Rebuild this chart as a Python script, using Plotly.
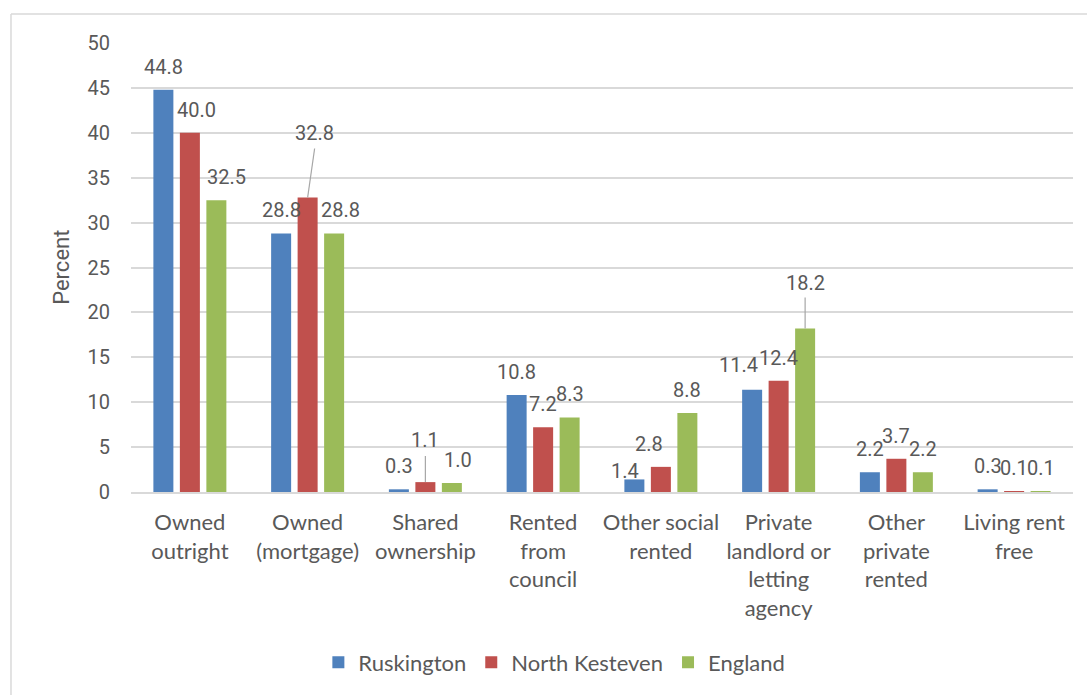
import plotly.graph_objects as go

# Household tenure shares (%)
categories = [
    "Owned<br>outright",
    "Owned<br>(mortgage)",
    "Shared<br>ownership",
    "Rented<br>from<br>council",
    "Other social<br>rented",
    "Private<br>landlord or<br>letting<br>agency",
    "Other<br>private<br>rented",
    "Living rent<br>free",
]
ruskington = [44.8, 28.8, 0.3, 10.8, 1.4, 11.4, 2.2, 0.3]
north_kesteven = [40.0, 32.8, 1.1, 7.2, 2.8, 12.4, 3.7, 0.1]
england = [32.5, 28.8, 1.0, 8.3, 8.8, 18.2, 2.2, 0.1]

series_names = ["Ruskington", "North Kesteven", "England"]
series_values = [ruskington, north_kesteven, england]
colors = ["#4F81BD", "#C0504D", "#9BBB59"]

TEXT = "#595959"
GRID = "#D9D9D9"
BARGAP = 0.325
BARGROUPGAP = 0.245

# Label nudges in pixels: (series index, category index) -> (dx, dy, leader length)
DEFAULT_DY = 23
nudges = {
    (1, 0): (7, DEFAULT_DY, 0),
    (2, 0): (10, DEFAULT_DY, 0),
    (1, 1): (7, 64, 49),
    (2, 1): (6, DEFAULT_DY, 0),
    (1, 2): (0, 42, 26),
    (2, 2): (6, DEFAULT_DY, 0),
    (0, 4): (-9, 8, 0),
    (1, 4): (-12, DEFAULT_DY, 0),
    (0, 5): (-14, 25, 0),
    (2, 5): (0, 46, 31),
}

fig = go.Figure()
for name, vals, col in zip(series_names, series_values, colors):
    fig.add_trace(go.Bar(
        name=name,
        x=categories,
        y=vals,
        marker=dict(color=col, line=dict(width=0)),
    ))

slot = (1 - BARGAP) / len(series_values)
annotations = []
shapes = []
for si, vals in enumerate(series_values):
    offset = (si - (len(series_values) - 1) / 2) * slot
    for ci, v in enumerate(vals):
        dx, dy, leader = nudges.get((si, ci), (0, DEFAULT_DY, 0))
        xpos = ci + offset
        annotations.append(dict(
            x=xpos, y=v, xref="x", yref="y",
            text=f"{v:.1f}", showarrow=False,
            xanchor="center", yanchor="middle",
            xshift=dx, yshift=dy,
            font=dict(family="Roboto", size=20, color=TEXT),
        ))
        if leader:
            shapes.append(dict(
                type="line", xref="x", yref="y",
                xsizemode="pixel", ysizemode="pixel",
                xanchor=xpos, yanchor=v,
                x0=0, x1=dx, y0=0, y1=leader,
                line=dict(color="#A6A6A6", width=1.2),
            ))

# Y axis title
annotations.append(dict(
    x=-0.074, y=0.5, xref="paper", yref="paper",
    text="Percent", textangle=-90, showarrow=False,
    xanchor="center", yanchor="middle",
    font=dict(family="Roboto", size=22, color=TEXT),
))

# Chart frame
shapes.append(dict(type="line", xref="paper", yref="paper",
                   x0=-0.1274, x1=1.05, y0=1.0646, y1=1.0646,
                   line=dict(color=GRID, width=1.5), layer="below"))
shapes.append(dict(type="line", xref="paper", yref="paper",
                   x0=-0.1274, x1=-0.1274, y0=1.0646, y1=-0.5,
                   line=dict(color=GRID, width=1.5), layer="below"))

fig.update_layout(
    width=1087, height=695,
    margin=dict(l=131, r=14, t=43, b=203),
    paper_bgcolor="white", plot_bgcolor="white",
    barmode="group", bargap=BARGAP, bargroupgap=BARGROUPGAP,
    font=dict(family="Lato", color=TEXT),
    annotations=annotations,
    shapes=shapes,
    showlegend=True,
    legend=dict(
        orientation="h", xref="container", yref="container",
        x=0.51, y=0.047, xanchor="center", yanchor="middle",
        font=dict(family="Lato", size=22, color=TEXT),
        itemwidth=30, traceorder="normal",
    ),
    xaxis=dict(
        showline=True, linecolor=GRID, linewidth=1.5,
        showgrid=False, ticks="",
        tickfont=dict(family="Lato", size=22, color=TEXT),
        ticklabelstandoff=10,
    ),
    yaxis=dict(
        range=[0, 50], dtick=5, tick0=0,
        showgrid=True, gridcolor=GRID, gridwidth=1.5,
        zeroline=False, showline=False, ticks="",
        tickfont=dict(family="Roboto", size=20, color=TEXT),
        ticklabelstandoff=20,
    ),
)

fig.write_html("out.html")
